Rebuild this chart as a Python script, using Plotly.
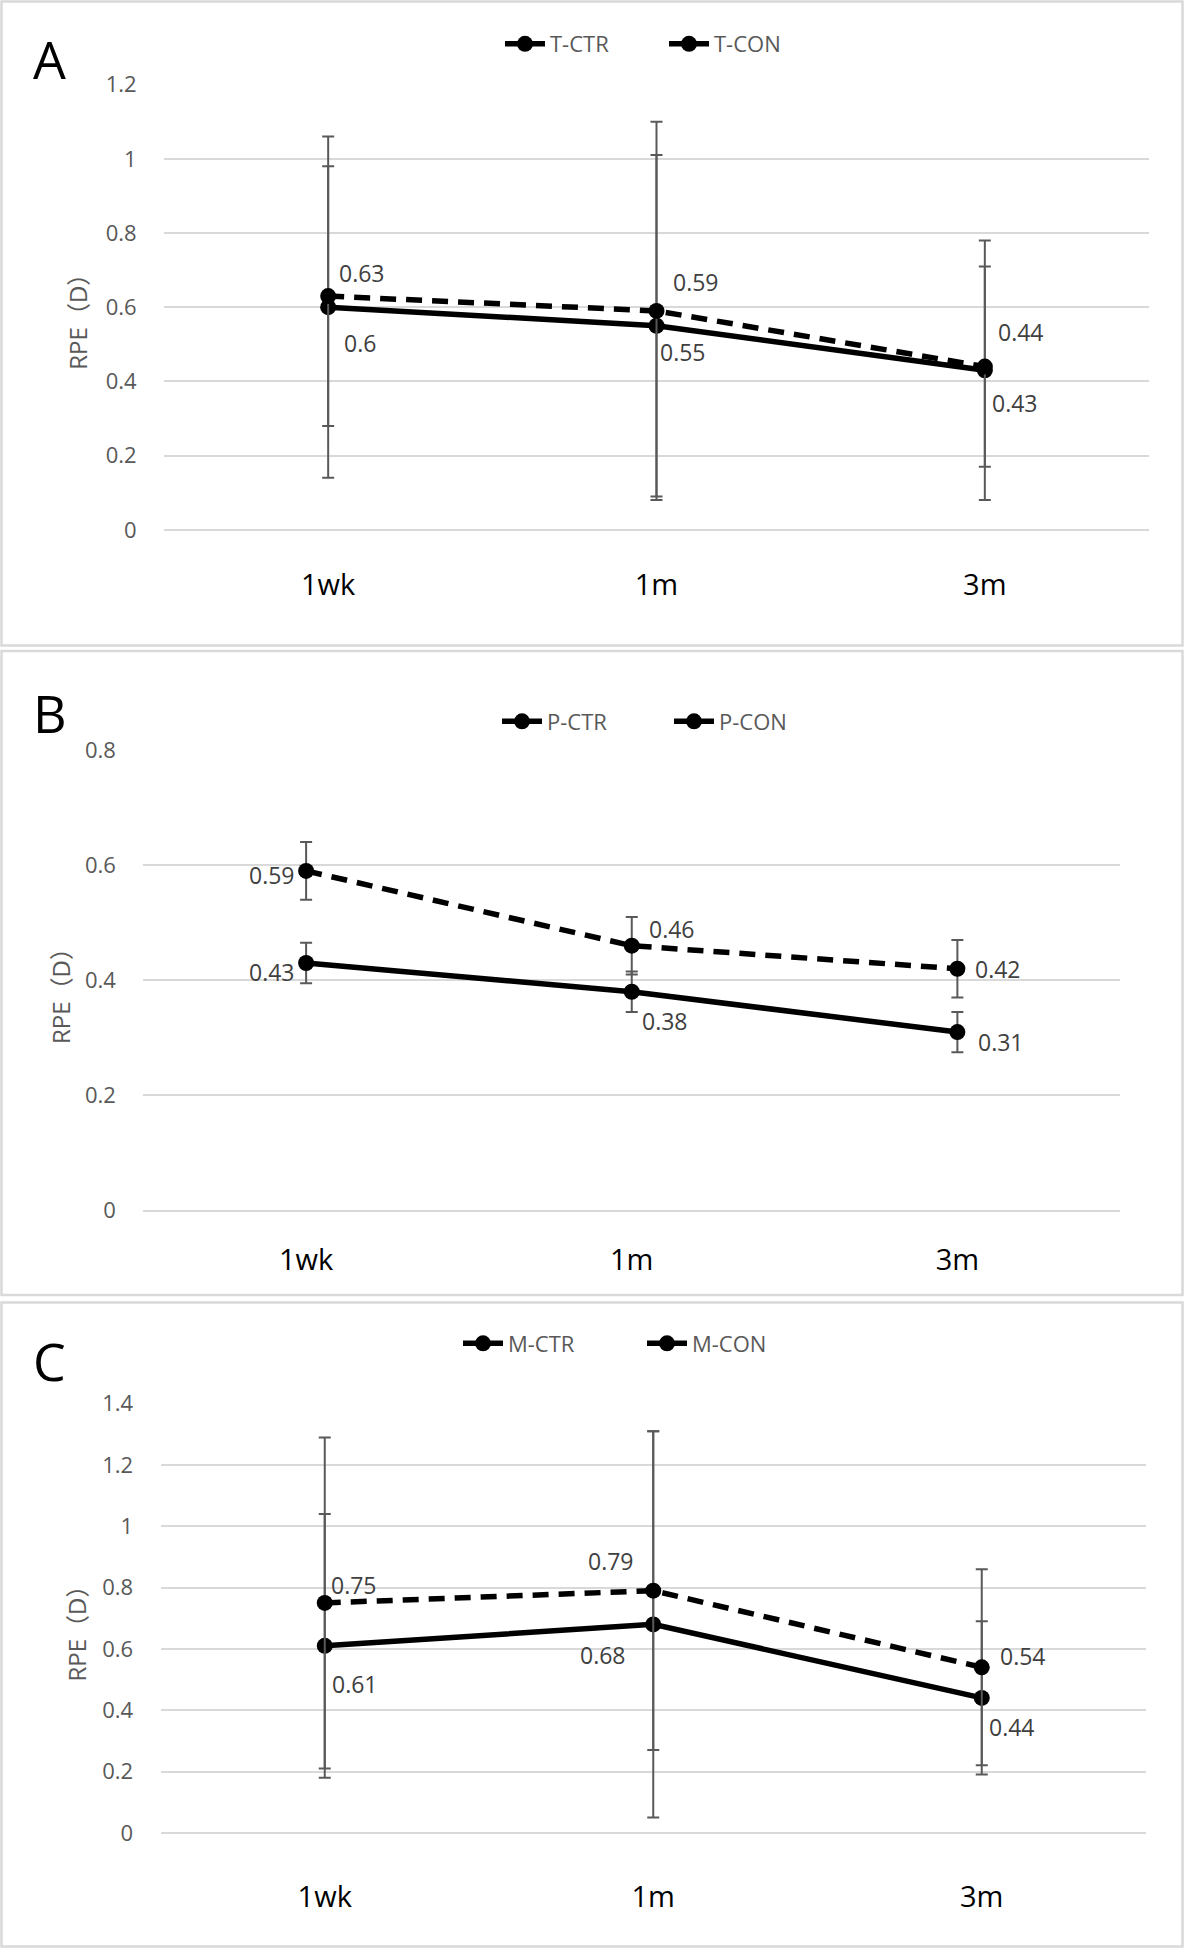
import plotly.graph_objects as go

# ---------------- data ----------------
CATEGORIES = ["1wk", "1m", "3m"]

A_NAMES = ["T-CTR", "T-CON"]
A_CTR = [0.60, 0.55, 0.43]
A_CON = [0.63, 0.59, 0.44]
A_CTR_SD = [0.46, 0.46, 0.35]
A_CON_SD = [0.35, 0.51, 0.27]
A_TICKVALS = [0, 0.2, 0.4, 0.6, 0.8, 1.0, 1.2]
A_TICKTEXT = ["0", "0.2", "0.4", "0.6", "0.8", "1", "1.2"]

B_NAMES = ["P-CTR", "P-CON"]
B_CTR = [0.43, 0.38, 0.31]
B_CON = [0.59, 0.46, 0.42]
B_CTR_SD = [0.035, 0.035, 0.035]
B_CON_SD = [0.05, 0.05, 0.05]
B_TICKVALS = [0, 0.2, 0.4, 0.6, 0.8]
B_TICKTEXT = ["0", "0.2", "0.4", "0.6", "0.8"]

C_NAMES = ["M-CTR", "M-CON"]
C_CTR = [0.61, 0.68, 0.44]
C_CON = [0.75, 0.79, 0.54]
C_CTR_SD = [0.43, 0.63, 0.25]
C_CON_SD = [0.54, 0.52, 0.32]
C_TICKVALS = [0, 0.2, 0.4, 0.6, 0.8, 1.0, 1.2, 1.4]
C_TICKTEXT = ["0", "0.2", "0.4", "0.6", "0.8", "1", "1.2", "1.4"]

PANEL_LETTERS = ["A", "B", "C"]
Y_TITLE = "RPE（D）"

# ---------------- layout / style (pixels) ----------------
W, H = 1184, 1948
FONT = "Open Sans, Noto Sans CJK SC, sans-serif"
GRID = "#d9d9d9"

STYLE = [
    dict(x0=164, x1=1149, ytop=84.6, ybot=529.8, xticklen=29,
         legend_left=500, legend_y=44, entry=109,
         letter=(49.5, 58.7), ytitle=(76.7, 316),
         frame=(1.5, 1.5, 1182.5, 645.5),
         ctr_off=[(32, 36), (26, 26), (30, 33)],
         con_off=[(34, -23), (39, -29), (36, -35)]),
    dict(x0=143.3, x1=1120.2, ytop=750, ybot=1210.5, xticklen=24,
         legend_left=497, legend_y=721.5, entry=117,
         letter=(49.5, 712), ytitle=(60, 990),
         frame=(1.5, 651, 1182.5, 1295),
         ctr_off=[(-34, 9), (33, 29), (44, 10)],
         con_off=[(-34, 4), (40, -17), (41, 0)]),
    dict(x0=160.5, x1=1146, ytop=1403.7, ybot=1832.8, xticklen=38,
         legend_left=458, legend_y=1343.5, entry=129,
         letter=(49, 1360), ytitle=(75.5, 1628),
         frame=(1.5, 1302.5, 1182.5, 1946.5),
         ctr_off=[(30, 38), (-50, 31), (30, 29)],
         con_off=[(29, -18), (-42, -30), (41, -11)]),
]

PANELS = [
    dict(names=A_NAMES, ctr=A_CTR, con=A_CON, ctr_sd=A_CTR_SD, con_sd=A_CON_SD,
         tickvals=A_TICKVALS, ticktext=A_TICKTEXT),
    dict(names=B_NAMES, ctr=B_CTR, con=B_CON, ctr_sd=B_CTR_SD, con_sd=B_CON_SD,
         tickvals=B_TICKVALS, ticktext=B_TICKTEXT),
    dict(names=C_NAMES, ctr=C_CTR, con=C_CON, ctr_sd=C_CTR_SD, con_sd=C_CON_SD,
         tickvals=C_TICKVALS, ticktext=C_TICKTEXT),
]


def fx(p):
    return p / W


def fy(p):
    return 1 - p / H


fig = go.Figure()
layout = dict(template="none", width=W, height=H, margin=dict(l=0, r=0, t=0, b=0, pad=0),
              paper_bgcolor="white", plot_bgcolor="white",
              font=dict(family=FONT), showlegend=True)
annotations = []
shapes = []

for i, (panel, st) in enumerate(zip(PANELS, STYLE)):
    n = "" if i == 0 else str(i + 1)
    xa, ya = "x" + n, "y" + n
    leg = "legend" + n

    for name, vals, sd, dash in [(panel["names"][0], panel["ctr"], panel["ctr_sd"], "solid"),
                                 (panel["names"][1], panel["con"], panel["con_sd"], "16px,10px")]:
        fig.add_trace(go.Scatter(
            x=CATEGORIES, y=vals, name=name, mode="lines+markers",
            line=dict(color="black", width=5.5, dash=dash),
            marker=dict(size=16, color="black"),
            error_y=dict(type="data", array=sd, visible=True, color="#595959",
                         thickness=2, width=6),
            xaxis=xa, yaxis=ya, legend=leg, hoverinfo="skip"))

    layout["xaxis" + n] = dict(
        domain=[fx(st["x0"]), fx(st["x1"])], anchor=ya, type="category",
        range=[-0.5, len(CATEGORIES) - 0.5], showgrid=False, zeroline=False,
        showline=False, automargin=False, ticks="outside", ticklen=st["xticklen"],
        tickcolor="rgba(0,0,0,0)", tickfont=dict(size=29, color="black", family=FONT))
    layout["yaxis" + n] = dict(
        domain=[fy(st["ybot"]), fy(st["ytop"])], anchor=xa,
        range=[panel["tickvals"][0], panel["tickvals"][-1]],
        tickvals=panel["tickvals"], ticktext=panel["ticktext"],
        showgrid=True, gridcolor=GRID, gridwidth=2,
        zeroline=True, zerolinecolor=GRID, zerolinewidth=2, showline=False,
        automargin=False, ticks="outside", ticklen=22, tickcolor="rgba(0,0,0,0)",
        tickfont=dict(size=22, color="#595959", family=FONT))
    layout[leg] = dict(
        orientation="h", x=fx(st["legend_left"]), y=fy(st["legend_y"]),
        xanchor="left", yanchor="middle", bgcolor="rgba(0,0,0,0)",
        entrywidth=st["entry"], entrywidthmode="pixels",
        font=dict(size=22, color="#595959", family=FONT), itemwidth=40)

    # panel letter
    annotations.append(dict(text=PANEL_LETTERS[i], x=fx(st["letter"][0]), y=fy(st["letter"][1]),
                            xref="paper", yref="paper", showarrow=False,
                            xanchor="center", yanchor="middle",
                            font=dict(size=52, color="black", family=FONT)))
    # y title
    annotations.append(dict(text=Y_TITLE, x=fx(st["ytitle"][0]), y=fy(st["ytitle"][1]),
                            xref="paper", yref="paper", showarrow=False, textangle=-90,
                            xanchor="center", yanchor="middle",
                            font=dict(size=24, color="#595959", family=FONT)))
    # data labels
    for vals, offs in [(panel["ctr"], st["ctr_off"]), (panel["con"], st["con_off"])]:
        for cat, v, (dx, dy) in zip(CATEGORIES, vals, offs):
            annotations.append(dict(text=f"{v:g}", x=cat, y=v, xref=xa, yref=ya,
                                    showarrow=False, xanchor="center", yanchor="middle",
                                    xshift=dx, yshift=-dy,
                                    font=dict(size=23, color="#404040", family=FONT)))
    # panel frame
    x0, y0, x1, y1 = st["frame"]
    shapes.append(dict(type="rect", xref="paper", yref="paper",
                       x0=fx(x0), x1=fx(x1), y0=fy(y1), y1=fy(y0),
                       line=dict(color=GRID, width=2.5), fillcolor="rgba(0,0,0,0)",
                       layer="below"))

layout["annotations"] = annotations
layout["shapes"] = shapes
fig.update_layout(**layout)
fig.write_html("out.html", config={"displayModeBar": False},
               post_script="document.body.style.margin='0';document.body.style.overflow='hidden';")
